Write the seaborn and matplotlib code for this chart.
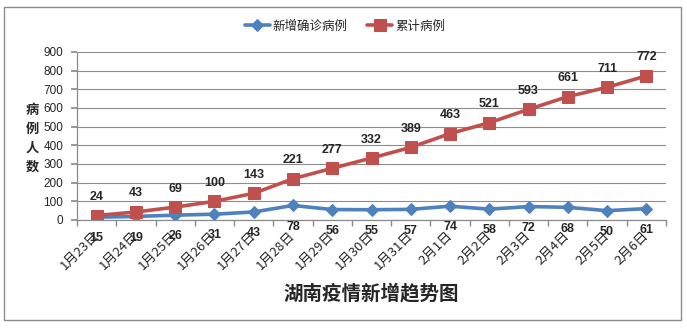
import matplotlib
matplotlib.use("Agg")
import matplotlib.pyplot as plt
from matplotlib.patches import Rectangle
import pandas as pd
import seaborn as sns

dates = ["1月23日", "1月24日", "1月25日", "1月26日", "1月27日", "1月28日", "1月29日",
         "1月30日", "1月31日", "2月1日", "2月2日", "2月3日", "2月4日", "2月5日", "2月6日"]
new_cases = [15, 19, 26, 31, 43, 78, 56, 55, 57, 74, 58, 72, 68, 50, 61]
total_cases = [24, 43, 69, 100, 143, 221, 277, 332, 389, 463, 521, 593, 661, 711, 772]

sns.set_theme(style="white")
plt.rcParams["font.family"] = ["Noto Sans CJK SC", "DejaVu Sans"]

blue = "#4F81BD"
red = "#C0504D"

df = pd.DataFrame({"日期": dates, "新增确诊病例": new_cases, "累计病例": total_cases})

fig = plt.figure(figsize=(6.87, 3.28), dpi=100)
ax = fig.add_axes([77 / 687, 1 - 220 / 328, (666 - 77) / 687, (220 - 52) / 328])

sns.lineplot(data=df, x="日期", y="新增确诊病例", ax=ax, color=blue, lw=2.6,
             marker="D", markersize=6, markeredgecolor=blue, label="新增确诊病例", sort=False)
sns.lineplot(data=df, x="日期", y="累计病例", ax=ax, color=red, lw=2.6,
             marker="s", markersize=8, markeredgecolor=red, label="累计病例", sort=False)

n = len(dates)
ax.set_xlim(-0.5, n - 0.5)
ax.set_ylim(0, 900)
ax.set_yticks(range(0, 901, 100))
ax.yaxis.grid(True, color="#8c8c8c", lw=0.8)
ax.set_axisbelow(True)
for side in ("top", "right"):
    ax.spines[side].set_visible(False)
for side in ("left", "bottom"):
    ax.spines[side].set_color("#8c8c8c")
    ax.spines[side].set_linewidth(0.9)

ax.set_xticks(range(n))
ax.set_xticklabels(dates, rotation=45, ha="right", va="center",
                   rotation_mode="anchor", fontsize=9.5)
ax.tick_params(axis="x", length=0, pad=10)
ax.set_xticks([i - 0.5 for i in range(n + 1)], minor=True)
ax.tick_params(axis="x", which="minor", length=4, color="#8c8c8c", direction="out", bottom=True)
ax.tick_params(axis="y", labelsize=8.5, length=4, color="#8c8c8c", left=True, pad=6)
for lab in ax.get_yticklabels():
    lab.set_fontfamily(["Liberation Sans", "DejaVu Sans"])
ax.set_xlabel("")
ax.set_ylabel("")

for i, (a, b) in enumerate(zip(new_cases, total_cases)):
    ax.annotate(str(b), (i, b), xytext=(0, 9), textcoords="offset points",
                ha="center", va="bottom", fontsize=9, fontweight="bold",
                family=["Liberation Sans", "DejaVu Sans"])
    ax.annotate(str(a), (i, a), xytext=(0, -11), textcoords="offset points",
                ha="center", va="top", fontsize=9, fontweight="bold",
                family=["Liberation Sans", "DejaVu Sans"])

fig.text(32 / 687, 1 - 138 / 328, "病\n例\n人\n数", ha="center", va="center",
         fontsize=9.5, fontweight="bold", linespacing=1.45)

ax.legend(loc="center", bbox_to_anchor=(345 / 687, 1 - 26 / 328),
          bbox_transform=fig.transFigure, ncol=2, frameon=False, fontsize=9,
          handlelength=2.0, columnspacing=1.6, handletextpad=0.2)

fig.text(371 / 687, 1 - 293 / 328, "湖南疫情新增趋势图", ha="center", va="center",
         fontsize=14, fontweight="bold")

fig.patches.append(Rectangle((4 / 687, 1 - 320 / 328), 677 / 687, 313 / 328,
                             transform=fig.transFigure, fill=False,
                             edgecolor="#8c8c8c", lw=1.0))

fig.savefig("out.png", dpi=100)
